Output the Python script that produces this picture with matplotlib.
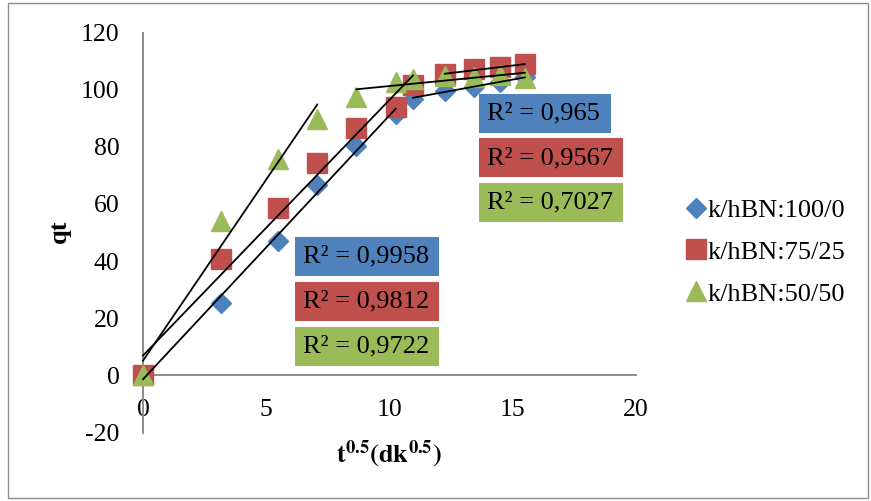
import numpy as np
import matplotlib
matplotlib.use("Agg")
import matplotlib.pyplot as plt
from matplotlib.patches import Rectangle

plt.rcParams['font.family'] = ['Liberation Serif', 'DejaVu Serif']
plt.rcParams['mathtext.fontset'] = 'stix'
plt.rcParams['axes.unicode_minus'] = False

# ---- data ----
x_vals = [0, 3.16, 5.48, 7.07, 8.66, 10.25, 10.95, 12.25, 13.42, 14.49, 15.49]
q_100_0 = [0, 25.5, 47.2, 66.8, 80.4, 91.6, 96.9, 99.6, 101.0, 102.6, 104.3]
q_75_25 = [0, 40.6, 58.7, 74.5, 86.7, 94.0, 101.8, 105.4, 107.1, 107.8, 108.9]
q_50_50 = [0, 54.0, 75.9, 89.9, 97.3, 102.6, 103.7, 104.9, 104.3, 105.2, 104.0]
series_names = ['k/hBN:100/0', 'k/hBN:75/25', 'k/hBN:50/50']
# index ranges used for the two linear trendlines of each series
fit_ranges = [[(0, 6), (6, 11)], [(0, 7), (7, 11)], [(0, 4), (4, 11)]]
r2_low = ['R² = 0,9958', 'R² = 0,9812', 'R² = 0,9722']
r2_high = ['R² = 0,965', 'R² = 0,9567', 'R² = 0,7027']
x_ticks = [0, 5, 10, 15, 20]
y_ticks = [-20, 0, 20, 40, 60, 80, 100, 120]

colors = ['#4F81BD', '#C0504D', '#9BBB59']
markers = ['D', 's', '^']
msizes = [10.5, 14.5, 15]

W, H = 871, 501
fig = plt.figure(figsize=(W / 100, H / 100), dpi=100)
ax = fig.add_axes([143 / W, 1 - 432.5 / H, (636 - 143) / W, (432.5 - 32.5) / H])
ax.set_xlim(0, 20)
ax.set_ylim(-20, 120)

xs = np.array(x_vals)
handles = []
for ys, c, m, ms, name in zip([q_100_0, q_75_25, q_50_50], colors, markers, msizes, series_names):
    h, = ax.plot(xs, ys, linestyle='none', marker=m, markersize=ms, color=c,
                 markeredgecolor=c, label=name, zorder=3, clip_on=False)
    handles.append(h)

for ys, rngs in zip([q_100_0, q_75_25, q_50_50], fit_ranges):
    ya = np.array(ys)
    for a, b in rngs:
        xx = xs[a:b]
        k, d = np.polyfit(xx, ya[a:b], 1)
        ax.plot([xx[0], xx[-1]], [k * xx[0] + d, k * xx[-1] + d], color='black',
                lw=1.3, zorder=4, clip_on=False)

for s in ['top', 'right']:
    ax.spines[s].set_visible(False)
ax.spines['bottom'].set_position(('data', 0))
for s in ['left', 'bottom']:
    ax.spines[s].set_color('#8C8C8C')
    ax.spines[s].set_linewidth(1.4)
ax.set_xticks(x_ticks)
ax.set_yticks(y_ticks)
ax.tick_params(axis='both', length=0, labelsize=18.5, pad=17)
ax.set_facecolor('none')

fig.text(59 / W, 1 - 231 / H, 'qt', rotation=90, fontsize=19, fontweight='bold',
         ha='center', va='center')
fig.text(389 / W, 1 - 454 / H, r'$\mathbf{t^{0.5}(dk^{0.5})}$', fontsize=19,
         ha='center', va='center')

# R² boxes
def rbox(x0, yc, w, h, txt, col):
    fig.patches.append(Rectangle((x0 / W, 1 - (yc + h / 2) / H), w / W, h / H,
                                 transform=fig.transFigure, facecolor=col,
                                 edgecolor='none', zorder=5))
    fig.text((x0 + 8) / W, 1 - yc / H, txt, fontsize=19, ha='left', va='center',
             zorder=6)

for i, (t, c) in enumerate(zip(r2_low, colors)):
    rbox(295, 256.5 + 45 * i, 144, 39, t, c)
hw = [132, 144, 144]
for i, (t, c) in enumerate(zip(r2_high, colors)):
    rbox(479, 113.5 + 44.5 * i, hw[i], 39, t, c)

fig.legend(handles=handles, loc='center left', bbox_to_anchor=(688 / W, 1 - 252 / H),
           frameon=False, fontsize=19, handlelength=0.6, handletextpad=0.15,
           labelspacing=0.7, borderaxespad=0, borderpad=0)

fig.patches.append(Rectangle((8 / W, 3 / H), (868 - 8) / W, (498 - 3) / H,
                             transform=fig.transFigure, fill=False,
                             edgecolor='#8C8C8C', lw=1.0))
fig.savefig('out.png', dpi=100)
